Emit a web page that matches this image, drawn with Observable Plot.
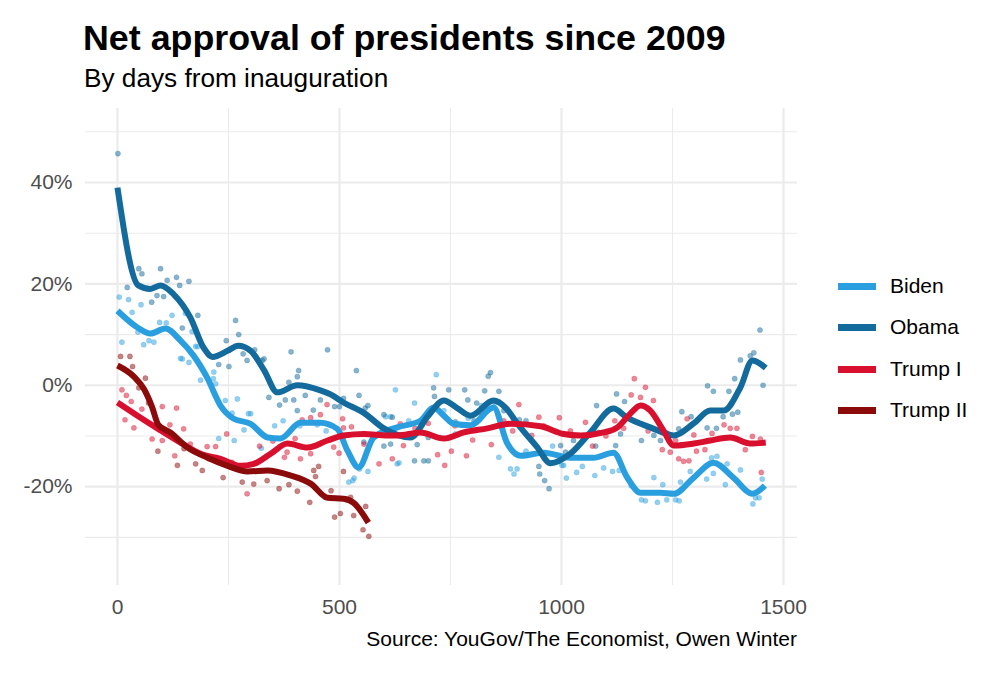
<!DOCTYPE html>
<html>
<head>
<meta charset="utf-8">
<script src="https://cdn.jsdelivr.net/npm/d3@7"></script>
<script src="https://cdn.jsdelivr.net/npm/@observablehq/plot@0.6"></script>
<style>
  html, body { margin: 0; padding: 0; background: #fff; }
  #wrap { position: relative; width: 1006px; height: 674px; overflow: hidden; font-family: "Liberation Sans", Arial, sans-serif; }
  #header { position: relative; height: 100px; }
  #title { position: absolute; left: 83px; top: 20.7px; font-size: 35.8px; line-height: 1; font-weight: bold; color: #000; white-space: nowrap; }
  #subtitle { position: absolute; left: 84px; top: 64.8px; font-size: 26.2px; line-height: 1; color: #000; white-space: nowrap; }
  #chart svg { display: block; }
  #caption { width: 797px; text-align: right; font-size: 21px; line-height: 1; margin-top: 3.2px; color: #000; white-space: nowrap; }
  #legend { position: absolute; left: 838px; top: 0; }
  .item { position: absolute; left: 0; height: 30px; width: 160px; }
  .sw { position: absolute; left: 0; top: 12px; width: 38px; height: 7px; }
  .lb { position: absolute; left: 52px; top: 0; font-size: 21px; line-height: 30px; color: #000; white-space: nowrap; }
</style>
</head>
<body>
<div id="wrap">
  <div id="header">
    <div id="title">Net approval of presidents since 2009</div>
    <div id="subtitle">By days from inauguration</div>
  </div>
  <div id="chart"></div>
  <div id="caption">Source: YouGov/The Economist, Owen Winter</div>
  <div id="legend"></div>
</div>
<script>
const series = ["Biden", "Obama", "Trump I", "Trump II"];
const colors = ["#2a9fe0", "#136a9c", "#d90f2e", "#8b0a0a"];

const xMajor = [0, 500, 1000, 1500];
const xMinor = [250, 750, 1250];
const yMajor = [-20, 0, 20, 40];
const yMinor = [-30, -10, 10, 30, 50];

// dots: [days from inauguration, net approval %]
const bidenDots = [
[4,17.4],[25,16.9],[33,14.4],[53,15.9],[123,13.8],[95,12.4],[110,12.3],[168,10.6],[10,8.5],[46,10.5],[59,8],[71,8.8],[82,8.5],[153,14.2],[180,7.6],[142,5.3],[146,5.2],[161,4.5],[176,7.7],[187,1],[217,2.6],[216,1.3],[221,0.3],[243,-3],[270,-2.7],[228,-10.5],[263,-10.9],[258,-5.5],[285,-8.8],[295,-5.6],[300,-5.6],[324,-12.4],[337,-13.9],[354,-8],[373,-7],[411,-8],[450,-7.8],[470,-9],[521,-19.1],[533,-18.3],[530,-18.8],[545,-16.5],[564,-17],[604,-6.2],[615,-6.2],[626,-0.9],[630,-15.5],[634,-15.3],[656,-7],[669,-3.5],[718,2.1],[735,-5],[761,-9.6],[790,-6.5],[820,-4],[850,-3.5],[859,-14.2],[885,-16.5],[893,-17.5],[900,-16.5],[920,-13],[960,-14],[980,-12],[1001,-15.8],[1005,-15.8],[1011,-18.3],[1034,-17.2],[1047,-16],[1075,-17.8],[1095,-16.3],[1115,-17],[1130,-16.8],[1157,-19.8],[1180,-22.6],[1189,-22.8],[1208,-18.2],[1216,-23.1],[1228,-19.6],[1237,-22.6],[1257,-22.6],[1265,-22.8],[1268,-19.1],[1290,-17],[1327,-18.5],[1338,-14.3],[1342,-17.4],[1350,-14],[1369,-19.6],[1373,-15.5],[1403,-16.7],[1431,-23.4],[1437,-22.2],[1445,-22.2],[1452,-18.5]
];
const obamaDots = [
[1,45.7],[22,19.3],[48,23],[55,22],[97,23],[112,20.7],[133,21.3],[140,19.7],[161,20.5],[89,17.7],[104,17.5],[77,16.4],[121,18.4],[146,11.3],[181,13.8],[266,12.8],[273,10],[245,8.8],[228,4.1],[251,3.7],[283,6.2],[292,4.9],[309,7],[330,5.2],[326,4.9],[391,6.6],[473,7],[341,-2.4],[365,-3.9],[378,-2.9],[397,-2.9],[405,1.7],[408,2.9],[386,0.6],[423,-2],[441,-4.9],[405,-5],[457,-2.9],[489,-4.2],[509,-2.6],[500,-4.2],[538,2.9],[544,-2],[558,-4.5],[564,-4],[555,-11.2],[600,-5.8],[619,-6.3],[600,-12],[615,-11.6],[669,-14.9],[690,-14.9],[700,-14.9],[712,-0.5],[714,-2.2],[746,-0.9],[782,-0.9],[827,-1.1],[835,1.8],[840,2.5],[859,-1.2],[789,-2.9],[809,-3.5],[870,-5],[905,-6.8],[920,-7],[803,-7],[727,-10.3],[700,-10.3],[761,-7.2],[675,-11.7],[949,-16],[951,-17.5],[962,-18.8],[972,-20.4],[998,-11.9],[1009,-13.2],[1027,-10.9],[1073,-8.6],[1084,-9.3],[1077,-12],[1079,-4],[1122,-11.9],[1124,-1.7],[1142,-3.2],[1133,-9.6],[1180,-10.9],[1208,-9.9],[1223,-10.9],[1237,-9.4],[1264,-8.6],[1271,-5.2],[1292,-6.2],[1328,-8.4],[1329,-0.1],[1342,-1.2],[1349,-8.5],[1364,-6.2],[1377,-1.2],[1385,-5.7],[1390,1.3],[1397,-5.3],[1403,5],[1425,5.8],[1433,6.4],[1447,10.9],[1454,0]
];
const trump1Dots = [
[10,-0.9],[20,-2],[31,-3.2],[17,-6.8],[37,-8.4],[55,-4.7],[101,-4.2],[133,-4.5],[78,-10.6],[118,-7.8],[149,-8.6],[101,-10.9],[129,-13.9],[164,-11.6],[202,-12.1],[221,-12.1],[206,-14.5],[225,-14.5],[246,-9.6],[258,-15.2],[292,-21.4],[320,-12],[350,-11],[376,-14.2],[382,-13.2],[400,-10.5],[412,-14.5],[435,-13.5],[416,-6.8],[435,-6.4],[457,-5.8],[472,-3.8],[487,-12.2],[499,-13.4],[507,-6.6],[509,-8.4],[527,-8.2],[555,-11.6],[589,-15.5],[619,-14.5],[637,-7.6],[644,-11.9],[670,-8.5],[700,-7.5],[721,-13.7],[737,-15.8],[752,-13],[760,-8],[786,-13.9],[800,-10.8],[820,-6],[842,-11.7],[870,-7],[890,-9],[904,-3.8],[933,-9.9],[949,-6.3],[960,-8],[995,-6.4],[1020,-9],[1054,-7.3],[1070,-12],[1100,-10],[1120,-7],[1140,-8.5],[1157,-1.9],[1164,1.3],[1178,-2.4],[1189,-0.4],[1207,-3],[1195,-9],[1227,-12.7],[1245,-13.2],[1257,-10.9],[1264,-14.5],[1275,-15],[1283,-6.6],[1287,-14.9],[1298,-9.8],[1304,-13],[1323,-12.7],[1339,-9.5],[1366,-7.8],[1380,-8.5],[1395,-8.5],[1414,-12.7],[1430,-10.1],[1448,-10.6],[1450,-17.2]
];
const trump2Dots = [
[7,5.7],[28,5.7],[34,3.7],[63,1.4],[48,-0.5],[70,-3.5],[91,-13],[110,-9.5],[135,-15.8],[150,-12.5],[176,-15.5],[191,-16.8],[238,-18.2],[281,-19.1],[307,-19.5],[337,-18.8],[364,-20.4],[386,-19.6],[405,-20.9],[433,-23.1],[442,-16.8],[446,-18],[453,-16],[468,-22.1],[481,-20.8],[489,-26],[502,-25.3],[509,-17],[525,-22.1],[532,-25.7],[553,-28.5],[559,-23.9],[566,-29.8]
];

// smoothed trend lines: [day, %]
const bidenTrend = [
[0,14.7],[45,11.4],[74,10.2],[108,11.2],[142,8.8],[171,5.9],[202,1.5],[232,-4],[262,-6.6],[300,-7.6],[338,-10.3],[367,-10.5],[412,-7.4],[457,-7.4],[495,-8.6],[518,-12.9],[543,-16.2],[577,-10.3],[630,-8.3],[682,-7],[712,-4.4],[735,-6],[757,-7.6],[795,-7.9],[847,-4.4],[878,-11.5],[908,-13.9],[960,-13.3],[1020,-14.3],[1072,-14.3],[1117,-13.3],[1148,-18.2],[1178,-21.2],[1223,-21.2],[1253,-21.4],[1298,-18.2],[1342,-15.3],[1387,-18.2],[1430,-21.4],[1458,-19.8]
];
const obamaTrend = [
[0,39],[47,19.7],[74,19],[97,19.7],[126,18],[164,13.4],[194,7.4],[214,5.6],[248,6.8],[272,7.8],[300,6.8],[330,3],[360,-1.4],[405,0],[457,-1],[480,-1.8],[509,-3.4],[554,-5.4],[600,-8.5],[660,-10.3],[700,-6],[735,-3],[765,-4.5],[795,-6],[847,-3],[875,-4.5],[900,-7.5],[946,-12.3],[975,-15.4],[1020,-13.5],[1065,-9.3],[1117,-4.6],[1148,-6.4],[1200,-8.3],[1253,-9.9],[1298,-7.5],[1335,-5],[1365,-5],[1403,-0.4],[1430,4.9],[1460,3.4]
];
const trump1Trend = [
[0,-3.4],[45,-6],[90,-8.5],[142,-11.3],[187,-13.5],[232,-14.5],[277,-15.9],[307,-15.5],[345,-13.5],[383,-11.5],[428,-12.3],[473,-10.9],[509,-9.9],[555,-9.6],[608,-9.9],[630,-9.9],[682,-9.3],[735,-10.5],[780,-9.3],[833,-8.5],[885,-7.6],[953,-8.1],[1005,-9.6],[1043,-9.9],[1095,-9.3],[1126,-8.3],[1155,-5.6],[1178,-4],[1200,-5],[1230,-9],[1253,-11.9],[1298,-11.5],[1335,-10.9],[1380,-10.3],[1425,-11.5],[1460,-11.3]
];
const trump2Trend = [
[0,3.9],[37,1.7],[60,-0.8],[78,-4.3],[92,-7.8],[119,-9.3],[158,-12.3],[203,-14.3],[248,-15.9],[293,-17],[338,-16.8],[390,-17.8],[435,-19.4],[473,-22.2],[509,-22.4],[532,-23.2],[565,-27.1]
];

const dotSets = [bidenDots, obamaDots, trump1Dots, trump2Dots];
const trendSets = [bidenTrend, obamaTrend, trump1Trend, trump2Trend];

const dots = dotSets.flatMap((arr, i) => arr.map(([day, value]) => ({name: series[i], day, value})));
const trend = trendSets.flatMap((arr, i) => arr.map(([day, value]) => ({name: series[i], day, value})));

const chart = Plot.plot({
  width: 1006,
  height: 525,
  marginLeft: 85,
  marginRight: 209,
  marginTop: 8,
  marginBottom: 40,
  style: {fontFamily: "'Liberation Sans', Arial, sans-serif", background: "white", overflow: "visible"},
  x: {domain: [-72, 1531.5], label: null},
  y: {domain: [-39.5, 54.6], label: null},
  color: {domain: series, range: colors},
  marks: [
    Plot.ruleX(xMinor, {stroke: "#ebebeb", strokeWidth: 1.1}),
    Plot.ruleY(yMinor, {stroke: "#ebebeb", strokeWidth: 1.1}),
    Plot.ruleX(xMajor, {stroke: "#ebebeb", strokeWidth: 2.2}),
    Plot.ruleY(yMajor, {stroke: "#ebebeb", strokeWidth: 2.2}),
    Plot.dot(dots, {x: "day", y: "value", fill: "name", r: 2.6, fillOpacity: 0.5, stroke: "name", strokeOpacity: 0.35, strokeWidth: 0.6}),
    Plot.line(trend, {x: "day", y: "value", z: "name", stroke: "name", strokeWidth: 6, curve: "monotone-x", strokeLinecap: "butt"}),
    Plot.axisX({ticks: xMajor, tickSize: 0, tickPadding: 14, fontSize: 21, fill: "#4d4d4d", tickFormat: d => String(d), label: null}),
    Plot.axisY({ticks: yMajor, tickSize: 0, tickPadding: 13, fontSize: 21, fill: "#4d4d4d", tickFormat: d => d + "%", label: null})
  ]
});
document.getElementById("chart").appendChild(chart);

// legend
const legend = document.getElementById("legend");
const rowCenters = [286, 327.3, 368.6, 410];
series.forEach((s, i) => {
  const item = document.createElement("div");
  item.className = "item";
  item.style.top = (rowCenters[i] - 15) + "px";
  const sw = document.createElement("div");
  sw.className = "sw";
  sw.style.background = colors[i];
  const lb = document.createElement("div");
  lb.className = "lb";
  lb.textContent = s;
  item.appendChild(sw);
  item.appendChild(lb);
  legend.appendChild(item);
});
</script>
</body>
</html>
